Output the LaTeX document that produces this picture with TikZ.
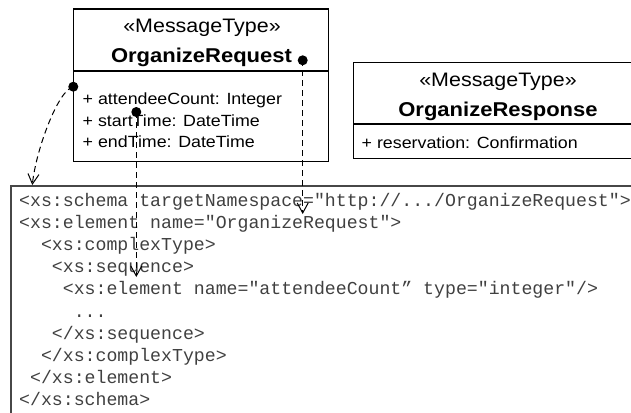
\documentclass[tikz,border=0pt]{standalone}
\usepackage{fontspec}
\setmainfont{Liberation Sans}[FakeStretch=1.1]
\setmonofont{Liberation Mono}
\usetikzlibrary{arrows.meta}
\tikzset{
  umlbox/.style={draw=black, line width=1.2pt, inner sep=0pt, anchor=north west},
  umlline/.style={draw=black, line width=1.2pt},
  codeframe/.style={draw=black!72, line width=1.8pt, inner sep=0pt, anchor=north west},
  stereo/.style={font=\fontsize{19.5}{21}\selectfont, anchor=base, inner sep=0pt},
  cname/.style={font=\bfseries\fontsize{20}{22}\selectfont, anchor=base, inner sep=0pt},
  attr/.style={font=\fontsize{16.2}{18}\selectfont, anchor=base west, inner sep=0pt},
  codeline/.style={font=\ttfamily\fontsize{18.2}{22}\selectfont, anchor=base west, inner sep=0pt, text=black!75},
  dotmark/.style={circle, fill=black, inner sep=0pt, minimum size=10pt},
  link/.style={dash pattern=on 6pt off 4pt, line width=1pt,
    -{Straight Barb[length=10pt,width=11pt,line width=1pt]}}
}
\begin{document}
\begin{tikzpicture}[x=1pt,y=-1pt]
\useasboundingbox (0,0) rectangle (631,412);
\clip (0,0) rectangle (631,412);
% OrganizeRequest class
\node[umlbox, minimum width=255pt, minimum height=152.5pt] (req) at (73,8.5) {};
\draw[umlline] (req.west |- 0,71) -- (req.east |- 0,71);
\node[stereo] (reqst) at (202,32.5) {«MessageType»};
\node[cname] (reqname) at (201.5,63) {OrganizeRequest};
\node[attr] (ra1) at (82.5,104.5) {+ attendeeCount: Integer};
\node[attr] (ra2) at (82.5,126) {+ startTime: DateTime};
\node[attr] (ra3) at (82.5,147.5) {+ endTime: DateTime};
% OrganizeResponse class
\node[umlbox, minimum width=290pt, minimum height=96pt] (resp) at (353,62) {};
\draw[umlline] (resp.west |- 0,124) -- (resp.east |- 0,124);
\node[stereo] (resst) at (498,86) {«MessageType»};
\node[cname] (resname) at (498,116.5) {OrganizeResponse};
\node[attr] (rsa1) at (361.5,148.5) {+ reservation: Confirmation};
% XSD code box
\node[codeframe, minimum width=700pt, minimum height=300pt] (codebox) at (10,185) {};
\node[codeline] (c1) at (19,206) {<xs:schema targetNamespace="http://.../OrganizeRequest">};
\node[codeline] (c2) at (19,228.2) {<xs:element name="OrganizeRequest">};
\node[codeline] (c3) at (40.84,250.4) {<xs:complexType>};
\node[codeline] (c4) at (51.76,272.6) {<xs:sequence>};
\node[codeline] (c5) at (62.68,294.8) {<xs:element name="attendeeCount” type="integer"/>};
\node[codeline] (c6) at (73.6,317) {...};
\node[codeline] (c7) at (51.76,339.2) {</xs:sequence>};
\node[codeline] (c8) at (40.84,361.4) {</xs:complexType>};
\node[codeline] (c9) at (29.92,383.6) {</xs:element>};
\node[codeline] (c10) at (19,405.8) {</xs:schema>};
% link anchors
\node[dotmark] (d1) at (302.7,60.3) {};
\node[dotmark] (d2) at (136.3,112) {};
\node[dotmark] (d3) at (73.3,86.7) {};
\coordinate (t1) at (302.7,214);
\coordinate (t2) at (136.3,277);
\coordinate (t3) at (32.3,185);
\draw[link] (d1.center) -- (t1);
\draw[link] (d2.center) -- (t2);
\draw[link] (d3.center) .. controls (58,90) and (36,150) .. (t3);
\end{tikzpicture}
\end{document}
